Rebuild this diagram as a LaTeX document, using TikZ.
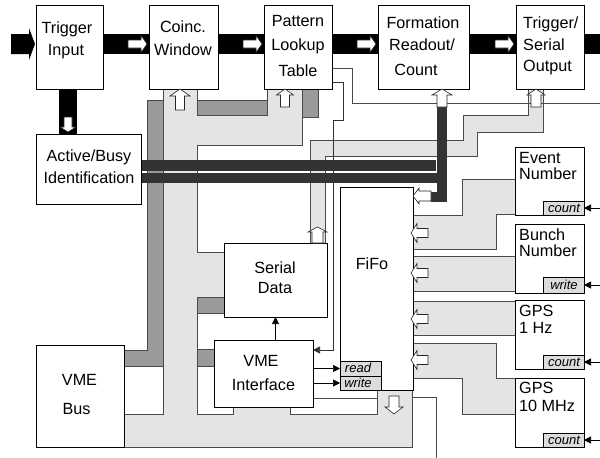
\documentclass[tikz,border=0pt]{standalone}
\usepackage{fontspec}
\setmainfont{Liberation Sans}
\usetikzlibrary{arrows.meta}
\pgfdeclarelayer{bg}
\pgfdeclarelayer{mid}
\pgfsetlayers{bg,mid,main}
\definecolor{lg}{HTML}{E4E4E4}
\definecolor{dg}{HTML}{9A9A9A}
\definecolor{bandc}{HTML}{333333}
\definecolor{edge}{HTML}{4A4A4A}
\definecolor{cb}{HTML}{DCDCDC}
\tikzset{
  box/.style={draw=black, fill=white, line width=0.8pt, inner sep=0pt, outer sep=0pt},
  tagbox/.style={draw=black, fill=cb, line width=0.7pt, inner sep=0pt, outer sep=0pt},
  lbl/.style={inner sep=0pt, anchor=base, font=\fontsize{16.2}{18}\selectfont},
  lbll/.style={lbl, anchor=base west},
  tag/.style={inner sep=0pt, anchor=base, font=\fontsize{13}{14}\selectfont\itshape},
  lgfill/.style={fill=lg, draw=edge, line width=0.7pt},
  dgfill/.style={fill=dg, draw=edge, line width=0.7pt},
  warrow/.style={fill=white, draw=black!85, line width=0.6pt, line join=miter},
  wire/.style={draw=edge, line width=0.7pt},
  sig/.style={draw=black, line width=0.7pt, -{Triangle[length=7pt,width=7pt]}},
}
% box: style, name, x1, y1, x2, y2
\newcommand\mkbox[6][box]{\node[#1, minimum width={#5-#3}, minimum height={#6-#4}] (#2) at ({(#3+#5)/2},{(#4+#6)/2}) {};}
% white arrows: tip x, tip y, length, head half, shaft half, head length
\newcommand\wR[6]{\draw[warrow] (#1,#2) -- ({#1-#6},{#2-#4}) -- ({#1-#6},{#2-#5}) -- ({#1-#3},{#2-#5}) -- ({#1-#3},{#2+#5}) -- ({#1-#6},{#2+#5}) -- ({#1-#6},{#2+#4}) -- cycle;}
\newcommand\wL[6]{\draw[warrow] (#1,#2) -- ({#1+#6},{#2-#4}) -- ({#1+#6},{#2-#5}) -- ({#1+#3},{#2-#5}) -- ({#1+#3},{#2+#5}) -- ({#1+#6},{#2+#5}) -- ({#1+#6},{#2+#4}) -- cycle;}
\newcommand\wU[6]{\draw[warrow] (#1,#2) -- ({#1-#4},{#2+#6}) -- ({#1-#5},{#2+#6}) -- ({#1-#5},{#2+#3}) -- ({#1+#5},{#2+#3}) -- ({#1+#5},{#2+#6}) -- ({#1+#4},{#2+#6}) -- cycle;}
\newcommand\wD[6]{\draw[warrow] (#1,#2) -- ({#1-#4},{#2-#6}) -- ({#1-#5},{#2-#6}) -- ({#1-#5},{#2-#3}) -- ({#1+#5},{#2-#3}) -- ({#1+#5},{#2-#6}) -- ({#1+#4},{#2-#6}) -- cycle;}
\begin{document}
\begin{tikzpicture}[x=1pt,y=-1pt]
\useasboundingbox (0,0) rectangle (600,458);
% ---------- boxes ----------
\mkbox{trig}{36}{5}{103}{89}
\mkbox{coinc}{149}{5}{218}{89}
\mkbox{patt}{264}{5}{332}{89}
\mkbox{form}{378}{5}{469}{89}
\mkbox{tout}{516}{5}{584}{89}
\mkbox{busy}{36}{134}{141}{204}
\mkbox{fifo}{340}{187}{413}{390}
\mkbox{serial}{224}{243}{327}{317}
\mkbox{vmei}{214}{340}{313}{407}
\mkbox{vmeb}{36}{345}{124}{447}
\mkbox{evn}{515}{147}{584}{215}
\mkbox{bun}{515}{224}{584}{293}
\mkbox{gpsa}{515}{300}{584}{369}
\mkbox{gpsb}{515}{378}{584}{447}
\mkbox[tagbox]{evc}{543}{201}{584}{215}
\mkbox[tagbox]{bunw}{543}{277}{584}{293}
\mkbox[tagbox]{gpsac}{543}{355}{584}{369}
\mkbox[tagbox]{gpsbc}{543}{433}{584}{447}
\mkbox[tagbox]{rd}{340}{361}{381}{376}
\mkbox[tagbox]{wr}{340}{376}{381}{390}
% ---------- background buses ----------
\begin{pgfonlayer}{bg}
  % dark gray bus
  \draw[dgfill] (124,350) -- (147,350) -- (147,100) -- (302,100) -- (302,89) -- (318,89) -- (318,117) -- (163,117) -- (163,366) -- (124,366) -- cycle;
  \draw[dgfill] (197,297) rectangle (224,313);
  \draw[dgfill] (197,349) rectangle (214,366);
  % light gray main bus
  \draw[lgfill] (163,89) -- (163,414) -- (124,414) -- (124,447) -- (412,447) -- (412,390) -- (377,390) -- (377,414) -- (290,414) -- (290,407) -- (233,407) -- (233,414) -- (197,414) -- (197,297) -- (224,297) -- (224,252) -- (197,252) -- (197,145) -- (302,145) -- (302,89) -- (267,89) -- (267,115) -- (197,115) -- (197,89) -- cycle;
  % serial data to output
  \draw[lgfill] (310,243) -- (310,140) -- (463,140) -- (463,115) -- (528,115) -- (528,89) -- (543,89) -- (543,132) -- (477,132) -- (477,156) -- (325,156) -- (325,243) -- cycle;
  % counters to FiFo
  \draw[lgfill] (413,215) -- (462,215) -- (462,179) -- (515,179) -- (515,214) -- (496,214) -- (496,249) -- (413,249) -- cycle;
  \draw[lgfill] (413,256) rectangle (515,291);
  \draw[lgfill] (413,301) rectangle (515,335);
  \draw[lgfill] (413,343) -- (496,343) -- (496,378) -- (515,378) -- (515,414) -- (462,414) -- (462,378) -- (413,378) -- cycle;
  % thin wires
  \coordinate (pout) at (600,103);
  \coordinate (fout) at (436,458);
  \draw[wire] (patt.east |- 0,68) -- (352,68) -- (352,103) -- (pout);
  \draw[sig, draw=black!80] (patt.east |- 0,82) -- (343,82) -- (343,120) -- (333,120) -- (333,350) -- (vmei.east |- 0,350);
  \draw[wire] (fifo.east |- 0,397) -- (436,397) -- (fout);
  \draw[wire] (vmei.east |- 0,398) -- (377,398);
\end{pgfonlayer}
% ---------- signal bands ----------
\begin{pgfonlayer}{mid}
  \fill[black] (11,34) -- (29,34) -- (29,28) -- (35,44) -- (29,60) -- (29,54) -- (11,54) -- cycle;
  \fill[black] (trig.east |- 0,34) rectangle (coinc.west |- 0,54);
  \fill[black] (coinc.east |- 0,34) rectangle (patt.west |- 0,54);
  \fill[black] (patt.east |- 0,34) rectangle (form.west |- 0,54);
  \fill[black] (form.east |- 0,34) rectangle (tout.west |- 0,54);
  \fill[black] (tout.east |- 0,34) rectangle (600,54);
  \fill[black] (trig.south -| 59,0) rectangle (busy.north -| 77,0);
  \fill[bandc] (437,107) rectangle (447,202);
  \fill[bandc] (431,192) rectangle (447,202);
  \fill[bandc] (busy.east |- 0,160) rectangle (436,170.5);
  \fill[bandc] (busy.east |- 0,172.5) rectangle (447,183);
\end{pgfonlayer}
% ---------- white arrows ----------
\wR{147}{44}{19}{8.5}{4}{6}
\wR{262}{44}{19}{8.5}{4}{6}
\wR{376}{44}{19}{8.5}{4}{6}
\wR{514}{44}{19}{8.5}{4}{6}
\wD{68}{132}{15}{8}{4}{5}
\wU{180}{89}{21}{10}{4.5}{7}
\wU{285}{89}{18}{8.5}{4.5}{6}
\wU{442}{89}{18}{10}{5}{6}
\wU{536}{89}{18}{9}{5}{6}
\wU{317.5}{227}{16}{9.5}{5.5}{5}
\wL{413}{196}{18}{8}{5}{6}
\wL{411}{233}{17}{9.5}{4.5}{6}
\wL{411}{273}{17}{9.5}{4.5}{6}
\wL{411}{319}{17}{9.5}{4.5}{6}
\wL{411}{360}{17}{9.5}{4.5}{6}
\wD{394}{414}{18}{9}{5}{7}
% ---------- signal arrows ----------
\draw[sig] (vmei.north -| serial.south) -- (serial.south);
\draw[sig] (vmei.east |- rd.west) -- (rd.west);
\draw[sig] (vmei.east |- wr.west) -- (wr.west);
\coordinate (ina) at (600,208);
\coordinate (inb) at (600,285);
\coordinate (inc) at (600,362);
\coordinate (ind) at (600,440);
\draw[sig] (ina) -- (evc.east);
\draw[sig] (inb) -- (bunw.east);
\draw[sig] (inc) -- (gpsac.east);
\draw[sig] (ind) -- (gpsbc.east);
% ---------- labels ----------
\node[lbl] (t1) at (67,33) {Trigger};
\node[lbl] (t2) at (66,55) {Input};
\node[lbl] (c1) at (183,32) {Coinc.};
\node[lbl] (c2) at (183,55) {Window};
\node[lbl] (p1) at (298,26) {Pattern};
\node[lbl] (p2) at (298,50) {Lookup};
\node[lbl] (p3) at (298,76) {Table};
\node[lbl] (f1) at (423,28) {Formation};
\node[lbl] (f2) at (422,50) {Readout/};
\node[lbl] (f3) at (416,75) {Count};
\node[lbll] (o1) at (523,28) {Trigger/};
\node[lbll] (o2) at (523,50) {Serial};
\node[lbll] (o3) at (523,71) {Output};
\node[lbl] (b1) at (89,161) {Active/Busy};
\node[lbl] (b2) at (89,183) {Identification};
\node[lbl] (s1) at (275,273) {Serial};
\node[lbl] (s2) at (275,293) {Data};
\node[lbl] (ff) at (372,269) {FiFo};
\node[lbl] (v1) at (261,366) {VME};
\node[lbl] (v2) at (263.5,390) {Interface};
\node[lbl] (w1) at (79.5,385) {VME};
\node[lbl] (w2) at (76.5,414) {Bus};
\node[lbll] (e1) at (519,163) {Event};
\node[lbll] (e2) at (519,179) {Number};
\node[lbll] (n1) at (519,240) {Bunch};
\node[lbll] (n2) at (519,256) {Number};
\node[lbll] (g1) at (519,316) {GPS};
\node[lbll] (g2) at (519,333) {1 Hz};
\node[lbll] (h1) at (519,393) {GPS};
\node[lbll] (h2) at (519,411) {10 MHz};
\node[tag] (k1) at (564,212) {count};
\node[tag] (k2) at (564,289) {write};
\node[tag] (k3) at (564,366) {count};
\node[tag] (k4) at (564,444) {count};
\node[tag] (r1) at (358,372) {read};
\node[tag] (r2) at (358,387) {write};
\end{tikzpicture}
\end{document}
